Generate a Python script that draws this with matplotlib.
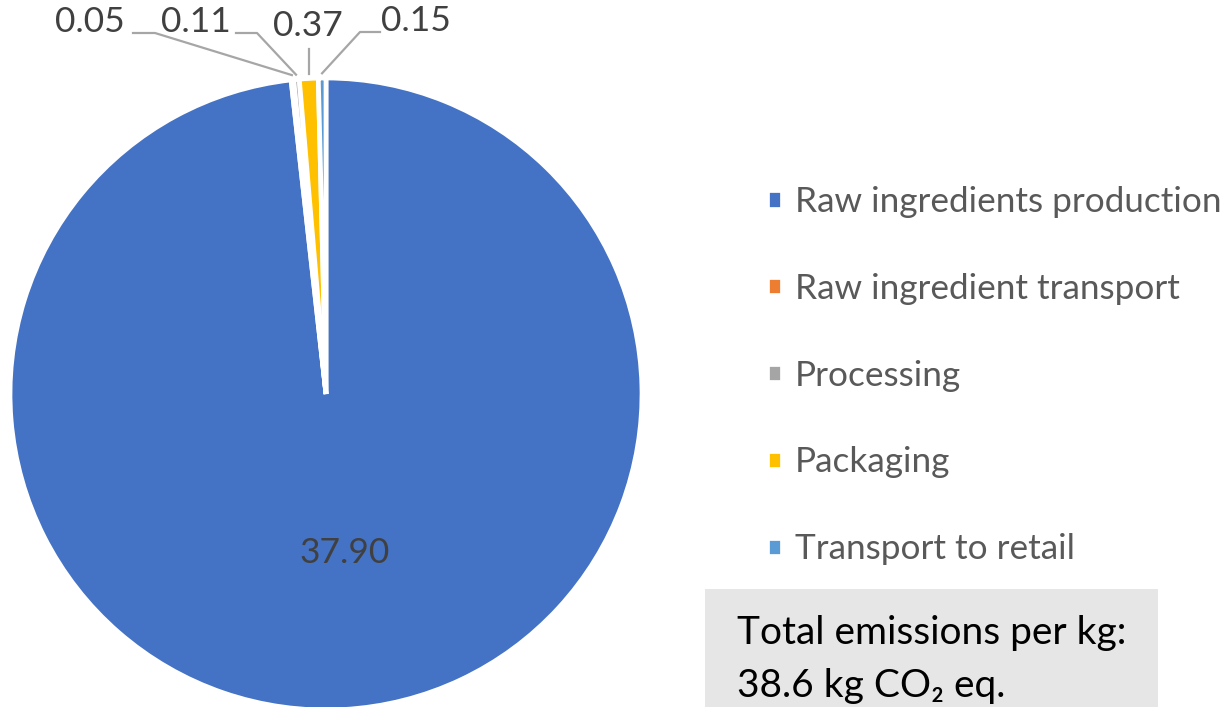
import numpy as np
import matplotlib.pyplot as plt
from matplotlib.patches import Rectangle

plt.rcParams['font.family'] = ['Lato', 'DejaVu Sans']

stages = ['Raw ingredients production', 'Raw ingredient transport', 'Processing',
          'Packaging', 'Transport to retail']
emissions = [37.90, 0.05, 0.11, 0.37, 0.15]
colors = ['#4472C4', '#ED7D31', '#A5A5A5', '#FFC000', '#5B9BD5']
total_label = 38.6

W, H = 1231, 707
fig = plt.figure(figsize=(W / 100, H / 100), dpi=100)

# pie centre (326, 394) px, radius 316 px
cx, cy, R = 326, 394, 316
ax = fig.add_axes([(cx - R) / W, (H - cy - R) / H, 2 * R / W, 2 * R / H])
wedges, _ = ax.pie(emissions, colors=colors, startangle=90, counterclock=False,
                   radius=1, wedgeprops=dict(edgecolor='white', linewidth=3.4))
ax.set_xlim(-1, 1)
ax.set_ylim(-1, 1)
ax.set_aspect('equal')


def d(x, y):
    # pixel position -> data coords of the pie axes
    return (x - cx) / R, (cy - y) / R


label_color = '#404040'
line_color = '#A6A6A6'

# big slice label
ax.text(*d(345, 553), f'{emissions[0]:.2f}', ha='center', va='center',
        fontsize=25.5, color=label_color)

# small slices: label position, leader start and elbow (pixels)
small = {
    1: ((90, 22), [(133, 33), (155, 33)]),
    2: ((196, 22), [(236, 33), (257, 33)]),
    3: ((308, 26), [(308, 49)]),
    4: ((416, 21), [(380, 32), (360, 32)]),
}
for i, (tpos, pts) in small.items():
    w = wedges[i]
    mid = np.deg2rad((w.theta1 + w.theta2) / 2)
    end = (1.015 * np.cos(mid), 1.015 * np.sin(mid))
    path = [d(*p) for p in pts] + [end]
    if i == 3:
        path = [(end[0], d(*pts[0])[1]), end]
    xs, ys = zip(*path)
    ax.plot(xs, ys, color=line_color, lw=1.6, clip_on=False)
    ax.text(*d(*tpos), f'{emissions[i]:.2f}', ha='center', va='center',
            fontsize=25.5, color=label_color, clip_on=False)

fig.legend(wedges, stages, loc='upper left', bbox_to_anchor=(767 / W, 1 - 186 / H),
           frameon=False, fontsize=25.3, labelcolor='#595959',
           handlelength=0.43, handleheight=0.43, handletextpad=0.37,
           labelspacing=1.56, borderpad=0, borderaxespad=0)

# total emissions box
fig.patches.append(Rectangle((705 / W, 0), (1158 - 705) / W, (H - 589) / H,
                             transform=fig.transFigure, facecolor='#E7E6E6',
                             edgecolor='none', zorder=0))
fig.text(737 / W, 1 - 633 / H, 'Total emissions per kg:', fontsize=28,
         color='black', va='center')
fig.text(737 / W, 1 - 686 / H, f'{total_label} kg CO\u2082 eq.', fontsize=28,
         color='black', va='center')

fig.savefig('out.png', dpi=100, facecolor='white')
